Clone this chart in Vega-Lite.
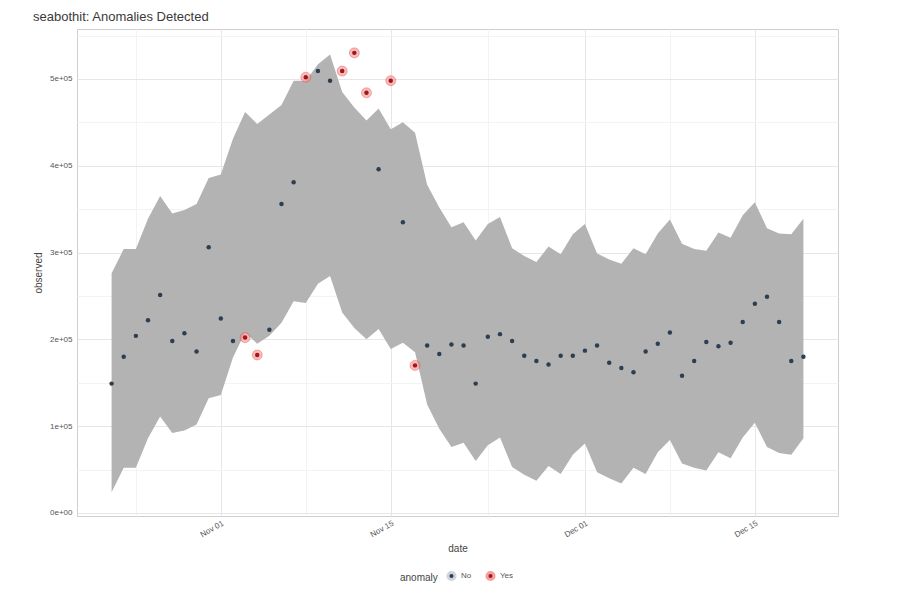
{
  "$schema": "https://vega.github.io/schema/vega-lite/v6.json",
  "autosize": {"type": "none"},
  "padding": {"left": 77, "top": 29, "right": 63, "bottom": 85},
  "width": 761,
  "height": 487,
  "background": "white",
  "title": {"text": "seabothit: Anomalies Detected", "anchor": "start", "fontSize": 13, "fontWeight": "normal", "color": "#3a3a3a", "font": "Liberation Sans", "offset": 5},
  "config": {
    "view": {"stroke": "#cfcfcf", "strokeWidth": 1},
    "font": "Liberation Sans",
    "axis": {"domain": false, "ticks": false, "labelFont": "Liberation Sans", "titleFont": "Liberation Sans", "labelColor": "#555555", "titleColor": "#444444", "labelFontSize": 8, "titleFontSize": 10, "titleFontWeight": "normal"},
    "legend": {"labelFont": "Liberation Sans", "titleFont": "Liberation Sans"}
  },
  "data": {"values": [
    {"date": "2018-10-23", "observed": 149000, "anomaly": "No", "lower": 24000, "upper": 276000},
    {"date": "2018-10-24", "observed": 180000, "anomaly": "No", "lower": 52000, "upper": 304000},
    {"date": "2018-10-25", "observed": 204000, "anomaly": "No", "lower": 52000, "upper": 304000},
    {"date": "2018-10-26", "observed": 222000, "anomaly": "No", "lower": 86000, "upper": 339000},
    {"date": "2018-10-27", "observed": 251000, "anomaly": "No", "lower": 111000, "upper": 365000},
    {"date": "2018-10-28", "observed": 198000, "anomaly": "No", "lower": 92000, "upper": 345000},
    {"date": "2018-10-29", "observed": 207000, "anomaly": "No", "lower": 95000, "upper": 349000},
    {"date": "2018-10-30", "observed": 186000, "anomaly": "No", "lower": 102000, "upper": 356000},
    {"date": "2018-10-31", "observed": 306000, "anomaly": "No", "lower": 132000, "upper": 386000},
    {"date": "2018-11-01", "observed": 224000, "anomaly": "No", "lower": 136000, "upper": 390000},
    {"date": "2018-11-02", "observed": 198000, "anomaly": "No", "lower": 179000, "upper": 431000},
    {"date": "2018-11-03", "observed": 202000, "anomaly": "Yes", "lower": 208000, "upper": 462000},
    {"date": "2018-11-04", "observed": 182000, "anomaly": "Yes", "lower": 195000, "upper": 448000},
    {"date": "2018-11-05", "observed": 211000, "anomaly": "No", "lower": 204000, "upper": 459000},
    {"date": "2018-11-06", "observed": 356000, "anomaly": "No", "lower": 219000, "upper": 470000},
    {"date": "2018-11-07", "observed": 381000, "anomaly": "No", "lower": 244000, "upper": 498000},
    {"date": "2018-11-08", "observed": 502000, "anomaly": "Yes", "lower": 242000, "upper": 498000},
    {"date": "2018-11-09", "observed": 509000, "anomaly": "No", "lower": 264000, "upper": 517000},
    {"date": "2018-11-10", "observed": 498000, "anomaly": "No", "lower": 273000, "upper": 528000},
    {"date": "2018-11-11", "observed": 509000, "anomaly": "Yes", "lower": 231000, "upper": 485000},
    {"date": "2018-11-12", "observed": 530000, "anomaly": "Yes", "lower": 213000, "upper": 467000},
    {"date": "2018-11-13", "observed": 484000, "anomaly": "Yes", "lower": 200000, "upper": 452000},
    {"date": "2018-11-14", "observed": 396000, "anomaly": "No", "lower": 212000, "upper": 466000},
    {"date": "2018-11-15", "observed": 498000, "anomaly": "Yes", "lower": 189000, "upper": 442000},
    {"date": "2018-11-16", "observed": 335000, "anomaly": "No", "lower": 196000, "upper": 450000},
    {"date": "2018-11-17", "observed": 170000, "anomaly": "Yes", "lower": 185000, "upper": 438000},
    {"date": "2018-11-18", "observed": 193000, "anomaly": "No", "lower": 125000, "upper": 378000},
    {"date": "2018-11-19", "observed": 183000, "anomaly": "No", "lower": 97000, "upper": 352000},
    {"date": "2018-11-20", "observed": 194000, "anomaly": "No", "lower": 76000, "upper": 329000},
    {"date": "2018-11-21", "observed": 193000, "anomaly": "No", "lower": 81000, "upper": 335000},
    {"date": "2018-11-22", "observed": 149000, "anomaly": "No", "lower": 60000, "upper": 314000},
    {"date": "2018-11-23", "observed": 203000, "anomaly": "No", "lower": 78000, "upper": 333000},
    {"date": "2018-11-24", "observed": 206000, "anomaly": "No", "lower": 87000, "upper": 341000},
    {"date": "2018-11-25", "observed": 198000, "anomaly": "No", "lower": 53000, "upper": 305000},
    {"date": "2018-11-26", "observed": 181000, "anomaly": "No", "lower": 44000, "upper": 296000},
    {"date": "2018-11-27", "observed": 175000, "anomaly": "No", "lower": 37000, "upper": 289000},
    {"date": "2018-11-28", "observed": 171000, "anomaly": "No", "lower": 54000, "upper": 307000},
    {"date": "2018-11-29", "observed": 181000, "anomaly": "No", "lower": 45000, "upper": 298000},
    {"date": "2018-11-30", "observed": 181000, "anomaly": "No", "lower": 67000, "upper": 321000},
    {"date": "2018-12-01", "observed": 187000, "anomaly": "No", "lower": 80000, "upper": 333000},
    {"date": "2018-12-02", "observed": 193000, "anomaly": "No", "lower": 47000, "upper": 299000},
    {"date": "2018-12-03", "observed": 173000, "anomaly": "No", "lower": 40000, "upper": 292000},
    {"date": "2018-12-04", "observed": 167000, "anomaly": "No", "lower": 34000, "upper": 287000},
    {"date": "2018-12-05", "observed": 162000, "anomaly": "No", "lower": 52000, "upper": 305000},
    {"date": "2018-12-06", "observed": 186000, "anomaly": "No", "lower": 45000, "upper": 298000},
    {"date": "2018-12-07", "observed": 195000, "anomaly": "No", "lower": 70000, "upper": 322000},
    {"date": "2018-12-08", "observed": 208000, "anomaly": "No", "lower": 84000, "upper": 338000},
    {"date": "2018-12-09", "observed": 158000, "anomaly": "No", "lower": 57000, "upper": 310000},
    {"date": "2018-12-10", "observed": 175000, "anomaly": "No", "lower": 52000, "upper": 304000},
    {"date": "2018-12-11", "observed": 197000, "anomaly": "No", "lower": 49000, "upper": 302000},
    {"date": "2018-12-12", "observed": 192000, "anomaly": "No", "lower": 70000, "upper": 323000},
    {"date": "2018-12-13", "observed": 196000, "anomaly": "No", "lower": 63000, "upper": 317000},
    {"date": "2018-12-14", "observed": 220000, "anomaly": "No", "lower": 87000, "upper": 343000},
    {"date": "2018-12-15", "observed": 241000, "anomaly": "No", "lower": 104000, "upper": 358000},
    {"date": "2018-12-16", "observed": 249000, "anomaly": "No", "lower": 76000, "upper": 328000},
    {"date": "2018-12-17", "observed": 220000, "anomaly": "No", "lower": 69000, "upper": 322000},
    {"date": "2018-12-18", "observed": 175000, "anomaly": "No", "lower": 67000, "upper": 321000},
    {"date": "2018-12-19", "observed": 180000, "anomaly": "No", "lower": 86000, "upper": 339000}
  ]},
  "encoding": {
    "x": {
      "field": "date", "type": "temporal", "title": "date",
      "scale": {"type": "utc", "domain": [
        {"year": 2018, "month": 10, "date": 20, "hours": 3, "minutes": 36, "utc": true},
        {"year": 2018, "month": 12, "date": 21, "hours": 20, "minutes": 24, "utc": true}
      ]},
      "axis": {
        "values": [
          {"year": 2018, "month": 10, "date": 25, "utc": true},
          {"year": 2018, "month": 11, "date": 1, "utc": true},
          {"year": 2018, "month": 11, "date": 8, "utc": true},
          {"year": 2018, "month": 11, "date": 15, "utc": true},
          {"year": 2018, "month": 11, "date": 23, "utc": true},
          {"year": 2018, "month": 12, "date": 1, "utc": true},
          {"year": 2018, "month": 12, "date": 8, "utc": true},
          {"year": 2018, "month": 12, "date": 15, "utc": true}
        ],
        "labelExpr": "(utcdate(datum.value) == 1 || utcdate(datum.value) == 15) ? utcFormat(datum.value, '%b %d') : ''",
        "labelAngle": -30, "labelAlign": "right", "labelBaseline": "top", "labelPadding": 3,
        "labelOverlap": false, "labelBound": false, "labelFlush": false,
        "grid": true,
        "gridColor": {"condition": {"test": "utcdate(datum.value) == 1 || utcdate(datum.value) == 15", "value": "#e6e6e6"}, "value": "#f3f3f3"},
        "titleY": 32, "titleBaseline": "middle"
      }
    }
  },
  "layer": [
    {
      "mark": {"type": "area", "color": "#b3b3b3", "opacity": 1, "interpolate": "linear"},
      "encoding": {
        "y": {
          "field": "upper", "type": "quantitative", "title": "observed",
          "scale": {"domain": [-3500, 557500], "nice": false, "zero": false},
          "axis": {
            "values": [0, 50000, 100000, 150000, 200000, 250000, 300000, 350000, 400000, 450000, 500000, 550000],
            "labelExpr": "datum.value % 100000 == 0 ? (datum.value == 0 ? '0e+00' : (datum.value / 100000) + 'e+05') : ''",
            "labelPadding": 5,
            "grid": true,
            "gridColor": {"condition": {"test": "datum.value % 100000 == 0", "value": "#e6e6e6"}, "value": "#f3f3f3"},
            "titleX": -39, "titleBaseline": "middle"
          }
        },
        "y2": {"field": "lower"}
      }
    },
    {
      "transform": [{"filter": "datum.anomaly == 'Yes'"}],
      "mark": {"type": "circle", "size": 100, "fill": "#f29090", "fillOpacity": 0.6, "stroke": "#e31a1c", "strokeOpacity": 0.3, "strokeWidth": 1},
      "encoding": {
        "y": {"field": "observed", "type": "quantitative", "title": "observed"}
      }
    },
    {
      "mark": {"type": "circle", "size": 20, "opacity": 1},
      "encoding": {
        "y": {"field": "observed", "type": "quantitative", "title": "observed"},
        "color": {
          "field": "anomaly", "type": "nominal",
          "scale": {"domain": ["No", "Yes"], "range": ["#2c3e50", "#a3171a"]},
          "legend": {
            "orient": "none", "legendX": 323, "legendY": 541,
            "direction": "horizontal", "titleOrient": "left", "title": "anomaly",
            "titleFontSize": 10, "titleFontWeight": "normal", "titleColor": "#444444", "titlePadding": 8,
            "labelFontSize": 8, "labelColor": "#555555",
            "symbolType": "circle", "symbolSize": 50, "symbolOpacity": 1, "columnPadding": 8,
            "encode": {"symbols": {"update": {
              "stroke": {"signal": "datum.value === 'Yes' ? '#f4a0a0' : '#d0d3d9'"},
              "strokeWidth": {"value": 3}
            }}}
          }
        }
      }
    }
  ]
}
